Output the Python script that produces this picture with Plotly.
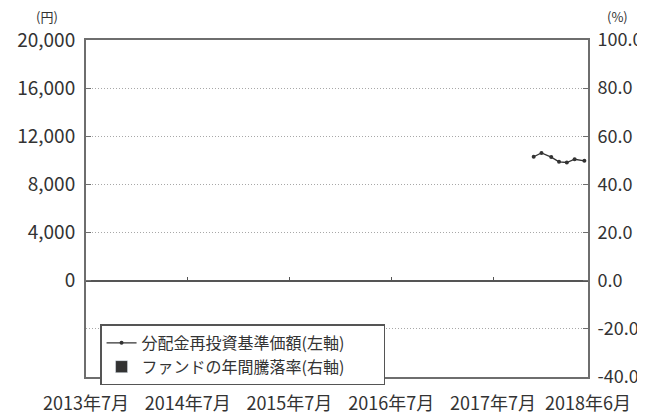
import plotly.graph_objects as go

# ---- data ----
nav_dates = ["2017-11-24", "2017-12-22", "2018-01-26", "2018-02-23",
             "2018-03-23", "2018-04-20", "2018-05-25"]
nav_values = [10300, 10610, 10270, 9880, 9820, 10090, 9960]

ret_dates = ["2018-05-25"]   # ファンドの年間騰落率 (no value yet)
ret_values = [None]

x_tick_vals = ["2013-07-01", "2014-07-01", "2015-07-01", "2016-07-01",
               "2017-07-01", "2018-06-07"]
x_tick_text = ["2013年7月", "2014年7月", "2015年7月", "2016年7月",
               "2017年7月", "2018年6月"]
x_inner_ticks = ["2014-07-01", "2015-07-01", "2016-07-01", "2017-07-01"]

y_left_vals = [0, 4000, 8000, 12000, 16000, 20000]
y_left_text = ["0", "4,000", "8,000", "12,000", "16,000", "20,000"]
y_right_vals = [-40, -20, 0, 20, 40, 60, 80, 100]
y_right_text = ["-40.0", "-20.0", "0.0", "20.0", "40.0", "60.0", "80.0", "100.0"]

FONT = "Noto Sans CJK JP"
TXT = "#333333"
AX = "#6e6e6e"
x_range = ["2013-07-01", "2018-06-07"]

fig = go.Figure()

fig.add_trace(go.Bar(
    x=ret_dates, y=ret_values, name="ファンドの年間騰落率(右軸)",
    marker_color="#333333", yaxis="y2", xaxis="x", showlegend=True,
))
fig.add_trace(go.Scatter(
    x=nav_dates, y=nav_values, name="分配金再投資基準価額(左軸)",
    mode="lines+markers", line=dict(color="#333333", width=1.3),
    marker=dict(size=4, color="#333333"), yaxis="y", xaxis="x",
))
# helper trace for the inner tick axis
fig.add_trace(go.Scatter(x=[], y=[], xaxis="x2", yaxis="y",
                         showlegend=False, hoverinfo="skip"))

# page body has an 8px margin, so the figure is 8px smaller and offset
fig.update_layout(
    width=637, height=406,
    margin=dict(l=78, r=57, t=32, b=37, autoexpand=False),
    paper_bgcolor="white", plot_bgcolor="white",
    font=dict(family=FONT, size=17, color=TXT),
    showlegend=True,
    legend=dict(
        x=0.028, y=0.156, xanchor="left", yanchor="top",
        orientation="h", entrywidth=0.55, entrywidthmode="fraction",
        bgcolor="white", bordercolor="#555555", borderwidth=1.5,
        font=dict(family=FONT, size=16, color=TXT),
        traceorder="reversed", itemwidth=30,
        tracegroupgap=0,
    ),
    xaxis=dict(
        type="date", range=x_range, automargin=False,
        tickvals=x_tick_vals, ticktext=x_tick_text,
        ticks="", showgrid=False, zeroline=False,
        showline=True, linecolor=AX, linewidth=2, mirror=True,
        tickfont=dict(family=FONT, size=18, color=TXT),
        ticklabelstandoff=9,
    ),
    xaxis2=dict(
        type="date", range=x_range, overlaying="x", anchor="free",
        position=(377 - 282) / 337, automargin=False,
        tickvals=x_inner_ticks, ticks="inside", ticklen=5, tickwidth=1,
        tickcolor="#555555", showticklabels=False, showgrid=False,
        showline=False, zeroline=False,
    ),
    yaxis=dict(
        range=[-8000, 20000], tickvals=y_left_vals, ticktext=y_left_text,
        automargin=False,
        ticks="inside", ticklen=5, tickcolor=AX,
        showgrid=False, zeroline=True, zerolinecolor="#555555",
        zerolinewidth=1.5,
        showline=True, linecolor=AX, linewidth=2,
        tickfont=dict(family=FONT, size=19, color=TXT),
        ticklabelstandoff=5,
    ),
    yaxis2=dict(
        range=[-40, 100], tickvals=y_right_vals, ticktext=y_right_text,
        overlaying="y", side="right", anchor="x", automargin=False,
        ticks="inside", ticklen=5, tickcolor=AX,
        showgrid=True, gridcolor="#a8a8a8", griddash="1px,2px", gridwidth=1,
        zeroline=False,
        showline=True, linecolor=AX, linewidth=2,
        tickfont=dict(family=FONT, size=18, color=TXT),
        ticklabelstandoff=4,
    ),
    annotations=[
        dict(text="(円)", xref="paper", yref="paper", x=-0.078, y=1.0,
             xanchor="center", yanchor="middle", showarrow=False,
             font=dict(family=FONT, size=13, color=TXT), yshift=24),
        dict(text="(%)", xref="paper", yref="paper", x=1.058, y=1.0,
             xanchor="center", yanchor="middle", showarrow=False,
             font=dict(family=FONT, size=13, color=TXT), yshift=24),
    ],
)

fig.write_html("out.html")
